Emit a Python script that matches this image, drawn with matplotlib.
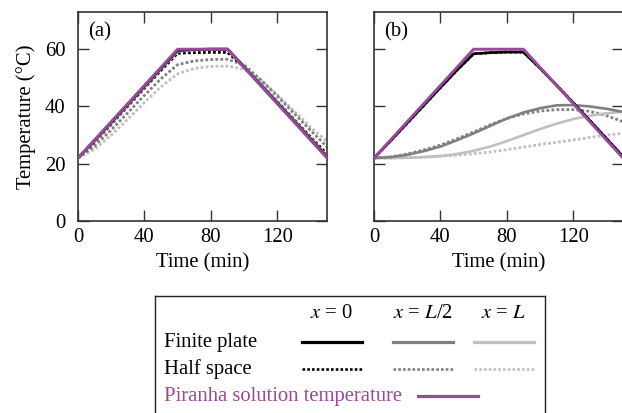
import matplotlib.pyplot as plt

plt.rcParams['font.family'] = ['Liberation Serif', 'DejaVu Serif']
plt.rcParams['mathtext.fontset'] = 'stix'
plt.rcParams['font.size'] = 14.9

# Piranha solution temperature (same in both panels)
t_piranha = [0, 60, 90, 150]
piranha = [22, 60, 60, 22]

# Sampled time axis for the model curves (min)
t = [0, 10, 20, 30, 40, 50, 60, 70, 80, 90, 100, 110, 120, 130, 140, 150]

# Panel (a): finite plate
a_plate_0 = [22, 28.2, 34.5, 40.8, 47.1, 53.4, 59.6, 59.9, 60, 60, 53.8, 47.5, 41.2, 34.9, 28.6, 22.3]
a_plate_half = [22, 28.0, 34.3, 40.6, 46.9, 53.2, 59.4, 59.9, 60.1, 60.1, 54.0, 47.8, 41.5, 35.2, 28.9, 22.6]
a_plate_L = [22, 27.9, 34.2, 40.5, 46.8, 53.1, 59.2, 59.8, 60, 60, 54.1, 47.9, 41.6, 35.3, 29.0, 22.7]
# Panel (a): half space
a_half_0 = [22, 27.6, 33.8, 40.1, 46.4, 52.6, 58.6, 58.8, 58.9, 58.9, 53.9, 47.9, 41.8, 35.6, 29.4, 23.4]
a_half_half = [22, 26.2, 31.8, 37.8, 43.9, 49.7, 54.6, 55.9, 56.4, 56.5, 54.5, 49.4, 43.7, 37.7, 31.7, 25.9]
a_half_L = [22, 25.0, 30.0, 35.6, 41.4, 46.9, 51.4, 53.3, 54.0, 54.1, 53.0, 49.2, 44.2, 38.5, 32.8, 27.8]

# Panel (b): finite plate
b_plate_0 = [22, 28.0, 34.2, 40.4, 46.6, 52.7, 58.4, 58.8, 59.0, 59.0, 53.4, 47.4, 41.3, 35.1, 28.8, 22.5]
b_plate_half = [22, 22.3, 23.1, 24.4, 26.0, 28.2, 30.6, 33.2, 35.8, 37.9, 39.4, 40.4, 40.5, 40.0, 39.2, 38.1]
b_plate_L = [22, 22.0, 22.1, 22.3, 22.7, 23.4, 24.5, 26.0, 27.9, 30.0, 32.1, 34.0, 35.6, 36.8, 37.6, 38.2]
# Panel (b): half space
b_half_0 = [22, 28.0, 34.2, 40.4, 46.6, 52.7, 58.4, 58.8, 59.0, 59.0, 53.4, 47.4, 41.3, 35.1, 28.8, 22.5]
b_half_half = [22, 22.4, 23.4, 24.8, 26.5, 28.7, 31.1, 33.6, 35.8, 37.4, 38.4, 38.9, 38.9, 38.3, 36.8, 34.7]
b_half_L = [22, 22.0, 22.1, 22.3, 22.6, 23.0, 23.5, 24.1, 24.9, 25.8, 26.7, 27.5, 28.3, 29.2, 30.0, 30.6]

x_ticks = [0, 40, 80, 120]
y_ticks = [0, 20, 40, 60]
position_labels = ['$x$ = 0', '$x$ = $L$/2', '$x$ = $L$']

colors = ['black', '#808080', '#c0c0c0']
purple = '#9a4a9a'
solid = dict(linestyle='-', linewidth=1.9)
dotted = dict(linestyle=(0, (1, 0.8)), linewidth=2.0)
purple_style = dict(color=purple, linestyle='-', linewidth=2.1)

fig = plt.figure(figsize=(6.22, 4.13), dpi=100)
ax_a = fig.add_axes([78 / 622, 1 - 221 / 413, 249 / 622, 209 / 413])
ax_b = fig.add_axes([374 / 622, 1 - 221 / 413, 249 / 622, 209 / 413])

panels = [
    (ax_a, '(a)', [a_plate_0, a_plate_half, a_plate_L], [a_half_0, a_half_half, a_half_L]),
    (ax_b, '(b)', [b_plate_0, b_plate_half, b_plate_L], [b_half_0, b_half_half, b_half_L]),
]

for ax, tag, plate, half in panels:
    for vals, c in reversed(list(zip(half, colors))):
        ax.plot(t, vals, color=c, zorder=2, **dotted)
    for vals, c in reversed(list(zip(plate, colors))):
        ax.plot(t, vals, color=c, zorder=3, **solid)
    ax.plot(t_piranha, piranha, zorder=4, **purple_style)

    ax.set_xlim(0, 150)
    ax.set_ylim(0, 73)
    ax.set_xticks(x_ticks)
    ax.set_yticks(y_ticks)
    ax.tick_params(direction='in', length=8, width=1, color='#333333',
                   top=True, right=True, pad=5)
    ax.tick_params(axis='y', pad=9)
    for s in ax.spines.values():
        s.set_linewidth(1.2)
        s.set_color('#333333')
    ax.set_xlabel('Time (min)')
    ax.xaxis.set_label_coords(0.5, -0.155)
    ax.text(0.04, 0.905, tag, transform=ax.transAxes, ha='left', va='center')

ax_b.set_yticklabels([])
ax_a.set_ylabel('Temperature (°C)')
ax_a.yaxis.set_label_coords(-0.17, 0.5)

# Legend box (drawn in pixel coordinates of the figure)
leg = fig.add_axes([154.7 / 622, 1 - 430 / 413, (545 - 154.7) / 622, (430 - 296) / 413])
leg.set_xlim(154.7, 545)
leg.set_ylim(430, 296)
leg.set_xticks([])
leg.set_yticks([])
for s in leg.spines.values():
    s.set_linewidth(1.0)
    s.set_color('#222222')

col_x = [(302, 362), (393, 453), (474, 534)]
for (x0, x1), lab, c in zip(col_x, position_labels, colors):
    leg.text((x0 + x1) / 2, 314, lab, ha='center', va='center')
    leg.plot([x0, x1], [341.7, 341.7], color=c, linestyle='-', linewidth=2.3)
    leg.plot([x0, x1], [369, 369], color=c, linestyle=(0, (1, 0.8)), linewidth=1.9)
leg.text(164, 342, 'Finite plate', ha='left', va='center')
leg.text(164, 369, 'Half space', ha='left', va='center')
leg.text(164, 396, 'Piranha solution temperature', ha='left', va='center', color=purple)
leg.plot([418, 478], [396, 396], color=purple, linewidth=2.3)

fig.savefig('out.png', dpi=100)
